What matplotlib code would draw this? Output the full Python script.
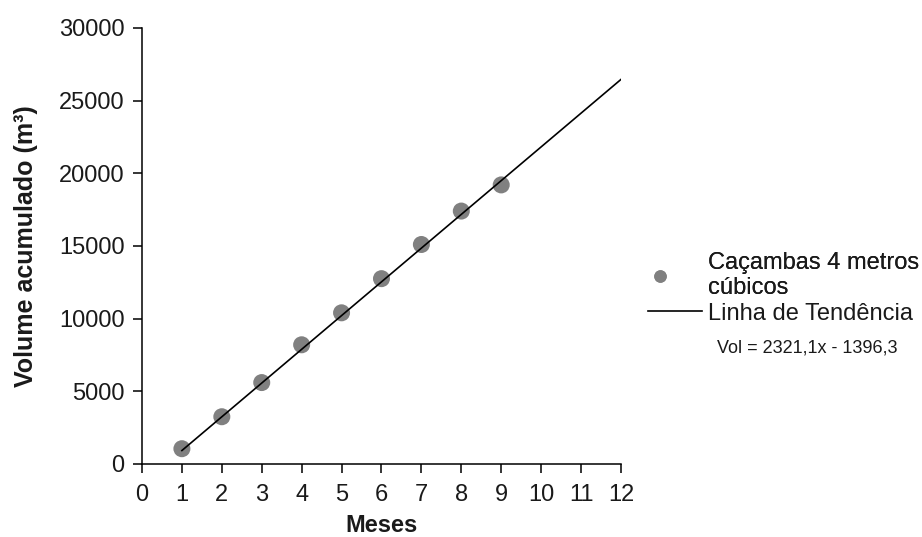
import numpy as np
import matplotlib
matplotlib.use("Agg")
import matplotlib.pyplot as plt
from matplotlib.lines import Line2D

plt.rcParams['font.family'] = ['Liberation Sans', 'DejaVu Sans']

# dados
meses = [1, 2, 3, 4, 5, 6, 7, 8, 9]
volume = [1050, 3250, 5600, 8200, 10400, 12750, 15100, 17400, 19200]

# linha de tendência (equação mostrada no gráfico)
coef_a = 2321.1
coef_b = -1396.3
trend_x = [1, 12]

x_ticks = list(range(0, 13))
y_ticks = [0, 5000, 10000, 15000, 20000, 25000, 30000]

txt_color = '#1a1a1a'
fs = 17

fig = plt.figure(figsize=(9.22, 5.37), dpi=100)
ax = fig.add_axes([0.154, 0.136, 0.5195, 0.812])

tx = np.array(trend_x, dtype=float)
ax.plot(tx, coef_a * tx + coef_b, color='black', lw=1.2, zorder=3)
ax.scatter(meses, volume, s=150, color='#808080', edgecolors='none', zorder=2)

ax.set_xlim(0, 12)
ax.set_ylim(0, 30000)
ax.set_xticks(x_ticks)
ax.set_yticks(y_ticks)
ax.tick_params(direction='out', length=6.5, width=1.1, labelsize=fs,
               colors='black', labelcolor=txt_color)
ax.tick_params(axis='y', pad=6)
ax.tick_params(axis='x', pad=8)
for side in ['top', 'right']:
    ax.spines[side].set_visible(False)
for side in ['left', 'bottom']:
    ax.spines[side].set_linewidth(1.1)

ax.set_xlabel('Meses', fontsize=fs, fontweight='bold', labelpad=6, color=txt_color)
ax.set_ylabel('Volume acumulado (m³)', fontsize=18, fontweight='bold',
              labelpad=15, color=txt_color)

# legenda: marcador e linha em caixas separadas
leg1 = fig.legend([Line2D([], [], marker='o', ls='none', color='#808080', markersize=8)],
                  ['Caçambas 4 metros\ncúbicos'],
                  loc='center left', bbox_to_anchor=(0.703, 0.487),
                  frameon=False, fontsize=fs, handlelength=1.02, handletextpad=1.53,
                  borderpad=0, borderaxespad=0, labelcolor=txt_color)
fig.legend([Line2D([], [], color='black', lw=1.2)], ['Linha de Tendência'],
           loc='center left', bbox_to_anchor=(0.703, 0.416),
           frameon=False, fontsize=fs, handlelength=2.29, handletextpad=0.25,
           borderpad=0, borderaxespad=0, labelcolor=txt_color)
fig.add_artist(leg1)

fig.text(0.778, 0.352, 'Vol = 2321,1x - 1396,3', fontsize=13, color=txt_color,
         va='center')

fig.savefig('out.png', dpi=100)
